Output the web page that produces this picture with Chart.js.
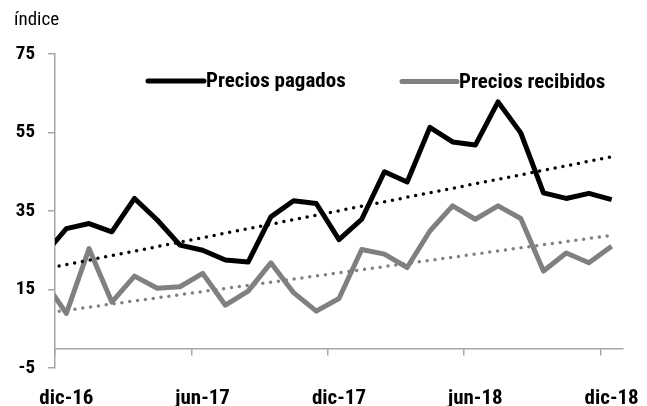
<!DOCTYPE html>
<html>
<head>
<meta charset="utf-8">
<script src="https://cdn.jsdelivr.net/npm/chart.js@4.4.1/dist/chart.umd.min.js"></script>
<style>
html,body{margin:0;padding:0;background:#fff;}
#wrap{width:647px;height:406px;}
</style>
</head>
<body>
<div id="wrap"><canvas id="c" width="647" height="406"></canvas></div>
<script>
// ---- data ----
const categories = ['nov-16','dic-16','ene-17','feb-17','mar-17','abr-17','may-17','jun-17','jul-17','ago-17','sep-17','oct-17','nov-17','dic-17','ene-18','feb-18','mar-18','abr-18','may-18','jun-18','jul-18','ago-18','sep-18','oct-18','nov-18','dic-18'];
const preciosPagados = [23.7, 30.5, 31.8, 29.7, 38.2, 32.7, 26.3, 25.0, 22.5, 22.0, 33.5, 37.6, 36.9, 27.7, 32.9, 45.0, 42.4, 56.3, 52.6, 51.8, 62.8, 54.9, 39.6, 38.2, 39.5, 37.9];
const preciosRecibidos = [17.3, 8.9, 25.4, 11.8, 18.4, 15.3, 15.7, 19.1, 11.0, 14.6, 21.8, 14.2, 9.5, 12.7, 25.2, 24.0, 20.6, 29.9, 36.3, 32.9, 36.3, 33.1, 19.7, 24.3, 21.8, 26.0];
// trend lines: value at first and last category
const trendPagados = [20.2, 48.8];
const trendRecibidos = [8.9, 28.8];
const tickLabels = ['dic-16','jun-17','dic-17','jun-18','dic-18'];
const yTicks = [-5, 15, 35, 55, 75];
const seriesNames = ['Precios pagados','Precios recibidos'];
const unitLabel = 'índice';

const FONT = "Roboto, 'DejaVu Sans', sans-serif";
const BOLDC = 'bold condensed';
const AXIS = '#a6a6a6';
const GRAY = '#808080';

const toPts = arr => arr.map((v,i)=>({x:i, y:v}));
const trendPts = arr => [{x:0, y:arr[0]}, {x:categories.length-1, y:arr[1]}];
const tickIdx = tickLabels.map(l => categories.indexOf(l));

const legendPlugin = {
  id: 'customLegend',
  afterDraw(chart) {
    const ctx = chart.ctx;
    ctx.save();
    // unit label
    ctx.font = "condensed 19px " + FONT;
    ctx.fillStyle = '#000';
    ctx.textBaseline = 'alphabetic';
    ctx.textAlign = 'left';
    ctx.fillText(unitLabel, 14, 25);
    // legend
    const items = [
      {ds: chart.data.datasets[0], x0: 148, x1: 204, y: 81},
      {ds: chart.data.datasets[1], x0: 402, x1: 457, y: 81.5}
    ];
    items.forEach(it => {
      ctx.strokeStyle = it.ds.borderColor;
      ctx.lineWidth = 5;
      ctx.lineCap = 'round';
      ctx.beginPath();
      ctx.moveTo(it.x0, it.y);
      ctx.lineTo(it.x1, it.y);
      ctx.stroke();
      ctx.font = BOLDC + " 21px " + FONT;
      ctx.fillStyle = '#000';
      ctx.textBaseline = 'middle';
      ctx.fillText(it.ds.label, it.x1 + 2, it.y + 1);
    });
    ctx.restore();
  }
};

new Chart(document.getElementById('c'), {
  type: 'line',
  data: {
    datasets: [
      {label: seriesNames[0], data: toPts(preciosPagados), borderColor: '#000', borderWidth: 5, pointRadius: 0, borderJoinStyle: 'round', clip: 0, order: 2},
      {label: seriesNames[1], data: toPts(preciosRecibidos), borderColor: GRAY, borderWidth: 5, pointRadius: 0, borderJoinStyle: 'round', clip: 0, order: 1},
      {label: 'trend1', data: trendPts(trendPagados), borderColor: '#000', borderWidth: 3.5, borderDash: [0, 7.9], borderCapStyle: 'round', pointRadius: 0, clip: 0, order: 0},
      {label: 'trend2', data: trendPts(trendRecibidos), borderColor: GRAY, borderWidth: 3.5, borderDash: [0, 7.9], borderCapStyle: 'round', pointRadius: 0, clip: 0, order: 0}
    ]
  },
  options: {
    responsive: false,
    devicePixelRatio: 1,
    animation: false,
    layout: {padding: {top: 54, right: 24, left: 0, bottom: 0}},
    plugins: {legend: {display: false}, tooltip: {enabled: false}},
    scales: {
      x: {
        type: 'linear', position: 'bottom',
        min: 0.5, max: categories.length - 0.5,
        grid: {display: false, drawTicks: false},
        border: {display: false},
        afterBuildTicks: s => { s.ticks = tickIdx.map(v => ({value: v})); },
        afterFit: s => { s.height = 38; s.paddingLeft = 0; s.paddingRight = 0; },
        ticks: {
          padding: 18,
          maxRotation: 0, autoSkip: false,
          color: '#000',
          font: {family: FONT, size: 21, weight: BOLDC},
          callback: v => categories[v]
        }
      },
      x2: {
        type: 'linear', position: {y: 0}, axis: 'x',
        min: 0.5, max: categories.length - 0.5,
        grid: {drawOnChartArea: false, drawTicks: true, tickLength: 6, color: AXIS, lineWidth: 1.5},
        border: {display: true, color: AXIS, width: 1.5},
        afterBuildTicks: s => { s.ticks = tickIdx.map(v => ({value: v - 0.5})); },
        afterFit: s => { s.paddingLeft = 0; s.paddingRight = 0; },
        ticks: {display: false}
      },
      y: {
        position: 'left',
        min: -5, max: 75,
        afterBuildTicks: s => { s.ticks = yTicks.map(v => ({value: v})); },
        afterFit: s => { s.width = 55; s.paddingTop = 0; s.paddingBottom = 0; },
        grid: {drawOnChartArea: false, drawTicks: true, tickLength: 7, color: AXIS, lineWidth: 1.5},
        border: {display: true, color: AXIS, width: 1.5},
        ticks: {
          padding: 13,
          color: '#000',
          font: {family: FONT, size: 19, weight: BOLDC}
        }
      }
    }
  },
  plugins: [legendPlugin]
});
</script>
</body>
</html>
